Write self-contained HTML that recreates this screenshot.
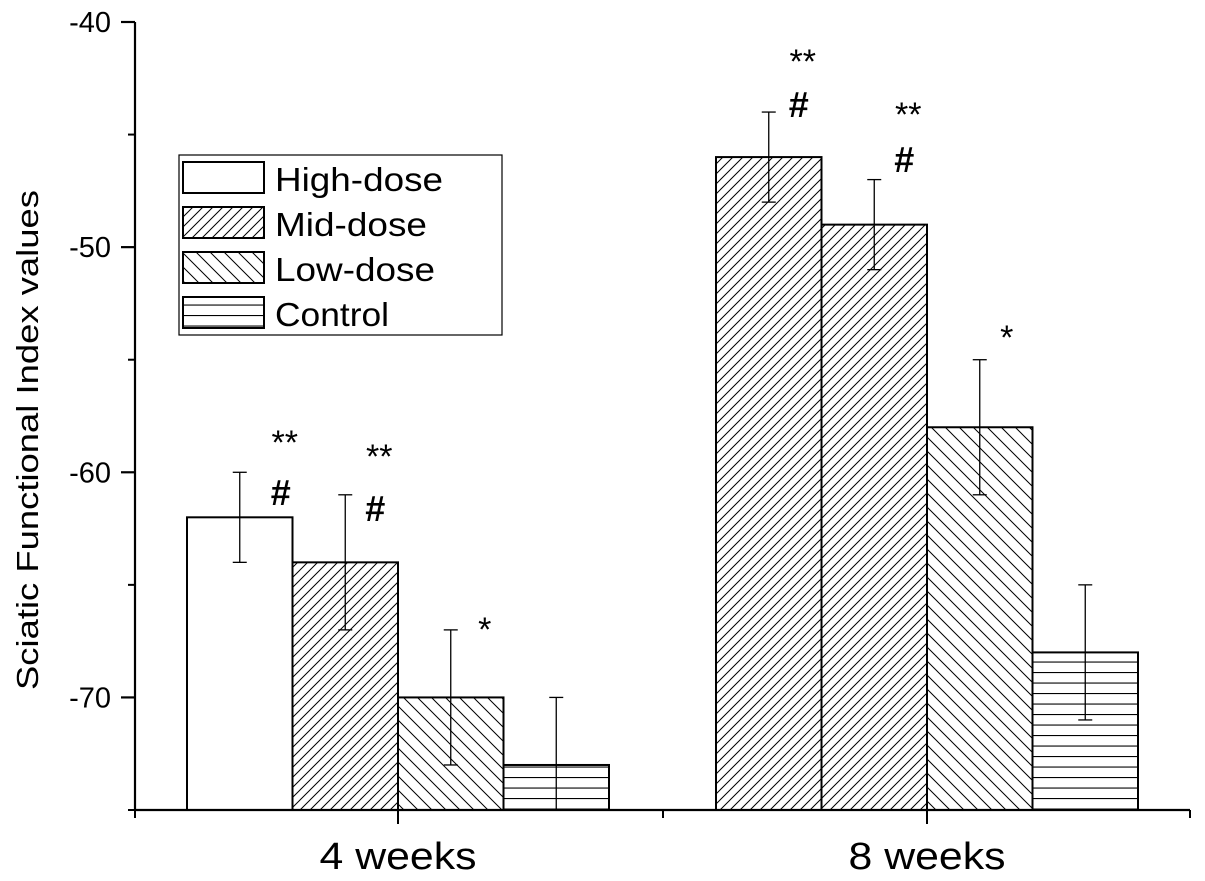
<!DOCTYPE html>
<html><head><meta charset="utf-8"><style>
html,body{margin:0;padding:0;background:#fff;}
svg{display:block;font-family:"Liberation Sans",Arial,sans-serif;}
</style></head><body>
<svg id="chart" width="1205" height="881" viewBox="0 0 1205 881">
<defs>
<pattern id="pMid" patternUnits="userSpaceOnUse" width="10" height="10"><path d="M-2,2 L2,-2 M0,10 L10,0 M8,12 L12,8" stroke="#000" stroke-width="1"/></pattern>
<pattern id="pLow" patternUnits="userSpaceOnUse" width="14" height="14"><path d="M-2,12 L2,16 M0,0 L14,14 M12,-2 L16,2" stroke="#000" stroke-width="1"/></pattern>
<pattern id="pCtl" patternUnits="userSpaceOnUse" width="10" height="10.5"><path d="M0,0.5 L10,0.5" stroke="#000" stroke-width="1.2"/></pattern>
</defs>
<g id="bars"></g><g id="errs"></g><g id="annots"></g><g id="axes"></g>
<g>
<rect x="179" y="155" width="323" height="180" fill="#fff" stroke="#000" stroke-width="1.2"/>
<g id="legend"></g>
</g>
<text transform="translate(38,440) rotate(-90)" text-anchor="middle" font-size="31" textLength="500" lengthAdjust="spacingAndGlyphs">Sciatic Functional Index values</text>
</svg>
<script>
const categories=["4 weeks","8 weeks"];
const seriesNames=["High-dose","Mid-dose","Low-dose","Control"];
const highDose=[-62,-46];
const midDose=[-64,-49];
const lowDose=[-70,-58];
const control=[-73,-68];
const highErr=[2,2];
const midErr=[3,2];
const lowErr=[3,3];
const ctlErr=[3,3];
const yTicks=[-70,-60,-50,-40];
const annotLabels=[["**","#"],["**","#"],["*"],[],["**","#"],["**","#"],["*"],[]];
const annotValues=[[-58.25,-60.92],[-58.88,-61.63],[-66.56],[],[-41.33,-43.69],[-43.69,-46.13],[-53.59],[]];

const NS="http://www.w3.org/2000/svg";
const yMin=-75,yMax=-40,yTop=22,yBot=810;
const xLeft=135,xRight=1190;
const y=v=>yBot-(v-yMin)/(yMax-yMin)*(yBot-yTop);
const catCenter=i=>398+i*529;
const barW=105.5;
const barX=(c,s)=>catCenter(c)-2*barW+s*barW;
const fills=["#fff","url(#pMid)","url(#pLow)","url(#pCtl)"];
const annotDx=[45,34,34,0,34,34,27,0];
const vals=[highDose,midDose,lowDose,control];
const errs=[highErr,midErr,lowErr,ctlErr];
function mk(tag,attrs,parent,text){const e=document.createElementNS(NS,tag);for(const k in attrs)e.setAttribute(k,attrs[k]);if(text!==undefined)e.textContent=text;parent.appendChild(e);return e;}
const gB=document.getElementById('bars'),gE=document.getElementById('errs'),gA=document.getElementById('annots'),gX=document.getElementById('axes'),gL=document.getElementById('legend');
for(let c=0;c<categories.length;c++){for(let s=0;s<4;s++){
 const v=vals[s][c],x0=barX(c,s),yt=y(v);
 const fill=(c===1&&s===0)?"url(#pMid)":fills[s];
 const r=mk('rect',{x:x0,y:yt,width:barW,height:yBot-yt,fill:fill,stroke:'#000','stroke-width':2},gB);
 
 
 const cx=x0+barW/2,e=errs[s][c];
 const yh=y(v+e),yl=Math.min(y(v-e),yBot);
 const g=mk('g',{stroke:'#000','stroke-width':1.3},gE);
 
 
 mk('line',{x1:cx,x2:cx,y1:yh,y2:yl},g);
 mk('line',{x1:cx-7,x2:cx+7,y1:yh,y2:yh},g);
 if(y(v-e)<yBot) mk('line',{x1:cx-7,x2:cx+7,y1:yl,y2:yl},g);
 const idx=c*4+s;
 annotLabels[idx].forEach((lab,k)=>{
  const isHash=lab==="#";
  const t=mk('text',{x:cx+annotDx[idx]-(isHash?4:0),y:y(annotValues[idx][k])+(isHash?12:21),'text-anchor':'middle','font-size':isHash?36:34,'font-weight':isHash?'bold':'normal'},gA,lab);
  
  
 });
}}
const ax=mk('line',{x1:xLeft,x2:xRight,y1:yBot,y2:yBot,stroke:'#000','stroke-width':2.2},gX);


const ay=mk('line',{x1:xLeft,x2:xLeft,y1:yTop,y2:yBot,stroke:'#000','stroke-width':2.2},gX);


yTicks.forEach(t=>{
 mk('line',{x1:xLeft-14,x2:xLeft,y1:y(t),y2:y(t),stroke:'#000','stroke-width':2.2},gX);
 const tl=mk('text',{x:xLeft-24,y:y(t)+10,'text-anchor':'end','font-size':29},gX,String(t));
 
 
});
for(let v=-75;v<=-40;v+=5){ if(v%10!==0) mk('line',{x1:xLeft-7,x2:xLeft,y1:y(v),y2:y(v),stroke:'#000','stroke-width':2},gX);}
categories.forEach((c,i)=>{
 mk('line',{x1:catCenter(i),x2:catCenter(i),y1:yBot,y2:yBot+14,stroke:'#000','stroke-width':2},gX);
 const tl=mk('text',{x:catCenter(i),y:869,'text-anchor':'middle','font-size':38,textLength:157,lengthAdjust:'spacingAndGlyphs'},gX,c);
 
 
});
[xLeft,663,xRight].forEach(x=>mk('line',{x1:x,x2:x,y1:yBot,y2:yBot+8,stroke:'#000','stroke-width':2},gX));
const legendW=[168,152,160,114];
seriesNames.forEach((n,i)=>{
 const yy=162+i*45;
 const r=mk('rect',{x:183,y:yy,width:81,height:31,fill:fills[i],stroke:'#000','stroke-width':2},gL);
 
 
 const t=mk('text',{x:275,y:yy+29,'font-size':33,textLength:legendW[i],lengthAdjust:'spacingAndGlyphs'},gL,n);
 
 
});
</script>
</body></html>
